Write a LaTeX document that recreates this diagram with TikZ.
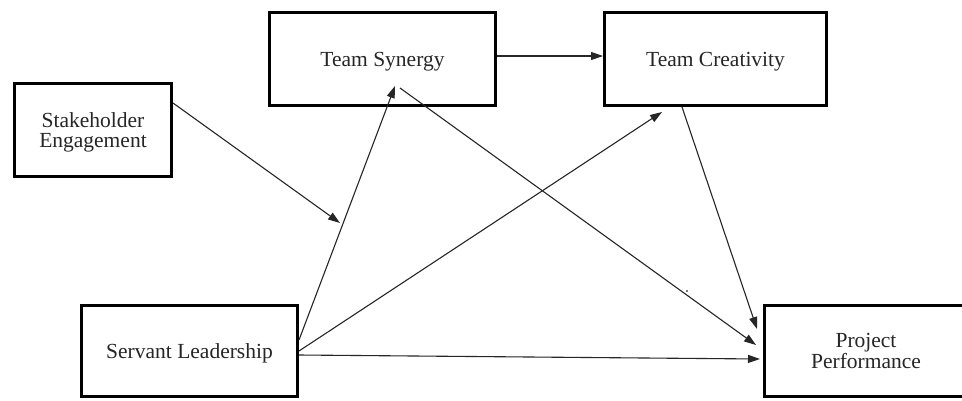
\documentclass[tikz,border=0pt]{standalone}
\usepackage{fontspec}
\setmainfont{Liberation Serif}
\usetikzlibrary{arrows.meta}
\begin{document}
\begin{tikzpicture}[x=1pt,y=-1pt,
  box/.style={draw=black,line width=3pt,rectangle,inner sep=0pt,align=center,
    font=\fontsize{21.5}{20.5}\selectfont,text=black!85,text depth=0pt},
  conn/.style={draw=black!85,line width=1.1pt,-{Triangle[length=12pt,width=8pt]}}]
\clip (0,0) rectangle (962,400);
\fill[white] (0,0) rectangle (962,400);
\node[box,minimum width=226pt,minimum height=93pt] (syn) at (382.5,59) {Team Synergy};
\node[box,minimum width=222pt,minimum height=93pt] (cre) at (715.5,59) {Team Creativity};
\node[box,minimum width=157pt,minimum height=93pt] (stake) at (93,130) {Stakeholder\\Engagement};
\node[box,minimum width=216pt,minimum height=91pt] (serv) at (189.5,351) {Servant Leadership};
\node[box,minimum width=203pt,minimum height=91pt] (pp) at (866,351) {Project\\Performance};
\coordinate (synTip) at (395,86);
\coordinate (synOut) at (400,88);
\coordinate (mod) at (340,223);
\draw[conn] ([yshift=3pt]syn.east) -- ([yshift=3pt]cre.west);
\draw[conn] ([yshift=11pt]serv.east) -- (synTip);
\draw[conn] ([yshift=27pt]stake.east) -- (mod);
\draw[conn] (synOut) -- ([xshift=-7pt,yshift=6pt]pp.west);
\draw[conn] (serv.east) -- ([xshift=-53.5pt,yshift=-5pt]cre.south);
\draw[conn] ([xshift=-33.5pt]cre.south) -- ([xshift=-6pt,yshift=22pt]pp.west);
\draw[conn] ([yshift=-4pt]serv.east) -- ([xshift=-3pt,yshift=-8pt]pp.west);
\fill[black!70] (687,291) circle (1.2pt);
\end{tikzpicture}
\end{document}
